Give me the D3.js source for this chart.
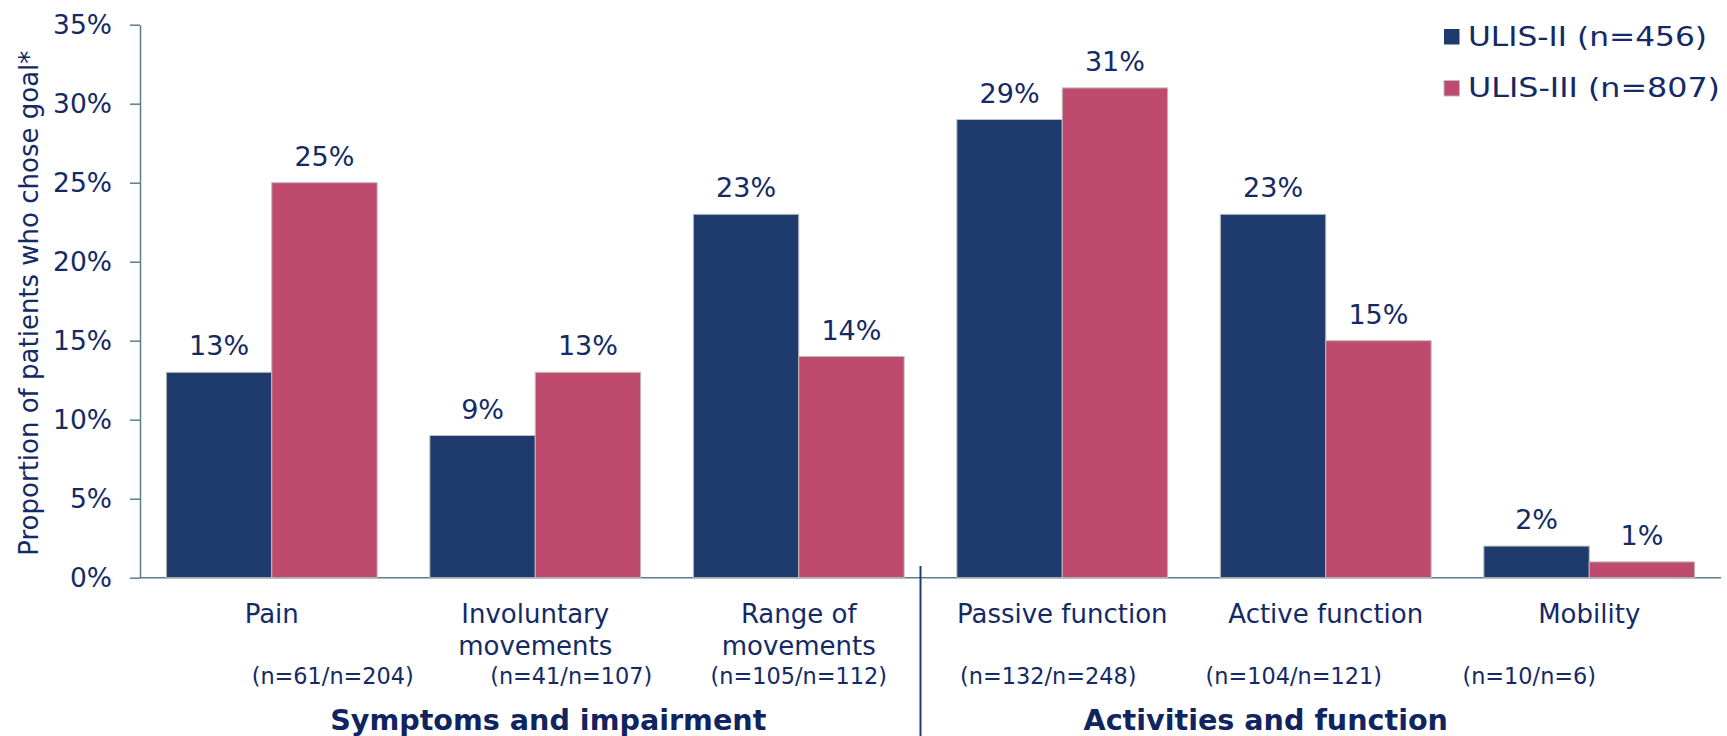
<!DOCTYPE html>
<html>
<head>
<meta charset="utf-8">
<script src="https://cdn.jsdelivr.net/npm/d3@7/dist/d3.min.js"></script>
<style>
  html, body { margin: 0; padding: 0; background: #fff; }
  svg { display: block; font-family: "DejaVu Sans", Verdana, sans-serif; }
</style>
</head>
<body>
<svg id="chart" width="1727" height="736"></svg>
<script>
// Goal categories (line breaks mark wrapped labels)
const categories = ["Pain", "Involuntary\nmovements", "Range of\nmovements", "Passive function", "Active function", "Mobility"];
// Share of patients choosing each goal, in percent
const ulis2Values = [13, 9, 23, 29, 23, 2];
const ulis3Values = [25, 13, 14, 31, 15, 1];
// Patient counts per category (ULIS-II / ULIS-III)
const nLabels = ["(n=61/n=204)", "(n=41/n=107)", "(n=105/n=112)", "(n=132/n=248)", "(n=104/n=121)", "(n=10/n=6)"];
// Category groups and how many categories each spans
const groupNames = ["Symptoms and impairment", "Activities and function"];
const groupSizes = [3, 3];
// Series names
const seriesNames = ["ULIS-II (n=456)", "ULIS-III (n=807)"];
// Y-axis ticks
const yTicks = [0, 5, 10, 15, 20, 25, 30, 35];
const yTickLabels = ["0%", "5%", "10%", "15%", "20%", "25%", "30%", "35%"];

// ---- styling ----
const textColor = "#142a66";
const axisColor = "#5d7d8c";
const seriesColors = ["#1f3b6e", "#be4a6e"];
const barStroke = "#bdbdbd";

const svg = d3.select("#chart");
const plotLeft = 140, plotRight = 1721, plotTop = 24.7, plotBottom = 577.7;

const x = d3.scaleBand()
  .domain(categories)
  .range([plotLeft, plotRight])
  .paddingInner(0.2)
  .paddingOuter(0.1);

const xSeries = d3.scaleBand()
  .domain([0, 1])
  .range([0, x.bandwidth()]);

const y = d3.scaleLinear().domain([0, 35]).range([plotBottom, plotTop]);

// Y axis
const yAxis = d3.axisLeft(y)
  .tickValues(yTicks)
  .tickFormat((d, i) => yTickLabels[i])
  .tickSize(10)
  .tickSizeOuter(0)
  .tickPadding(18);

const yG = svg.append("g").attr("transform", `translate(${plotLeft},0)`).call(yAxis);
yG.select(".domain").attr("stroke", axisColor).attr("stroke-width", 1.5);
yG.selectAll(".tick line").attr("stroke", axisColor).attr("stroke-width", 1.5);
yG.selectAll(".tick text")
  .attr("fill", textColor)
  .attr("font-size", 26.5)
  .attr("font-family", "DejaVu Sans, Verdana, sans-serif");

// Baseline along 0%
svg.append("line")
  .attr("x1", plotLeft).attr("x2", plotRight)
  .attr("y1", y(0)).attr("y2", y(0))
  .attr("stroke", axisColor).attr("stroke-width", 1.5);

// Y axis title
svg.append("text")
  .attr("transform", `translate(38,${(y(0) + y(35)) / 2 + 2}) rotate(-90)`)
  .attr("text-anchor", "middle")
  .attr("fill", textColor)
  .attr("font-size", 26)
  .text("Proportion of patients who chose goal*");

// Bars and value labels
const series = [ulis2Values, ulis3Values];
series.forEach((vals, s) => {
  const rows = categories.map((c, i) => ({ c, v: vals[i] }));
  svg.append("g").selectAll("rect")
    .data(rows)
    .join("rect")
    .attr("x", d => x(d.c) + xSeries(s))
    .attr("y", d => y(d.v))
    .attr("width", xSeries.bandwidth())
    .attr("height", d => y(0) - y(d.v))
    .attr("fill", seriesColors[s])
    .attr("stroke", barStroke)
    .attr("stroke-width", 1);

  svg.append("g").selectAll("text")
    .data(rows)
    .join("text")
    .attr("x", d => x(d.c) + xSeries(s) + xSeries.bandwidth() / 2)
    .attr("y", d => y(d.v) - 17)
    .attr("text-anchor", "middle")
    .attr("fill", textColor)
    .attr("font-size", 27)
    .text(d => d.v + "%");
});

// Category labels
const catG = svg.append("g");
categories.forEach(c => {
  const t = catG.append("text")
    .attr("x", x(c) + x.bandwidth() / 2)
    .attr("y", 623)
    .attr("text-anchor", "middle")
    .attr("fill", textColor)
    .attr("font-size", 26);
  c.split("\n").forEach((line, li) => {
    t.append("tspan")
      .attr("x", x(c) + x.bandwidth() / 2)
      .attr("dy", li === 0 ? 0 : 32)
      .text(line);
  });
});

// Patient count labels, nudged sideways to sit in a row
const nShift = [61, 36, 0, -14, -32, -60];
svg.append("g").selectAll("text")
  .data(categories)
  .join("text")
  .attr("x", (c, i) => x(c) + x.bandwidth() / 2 + nShift[i])
  .attr("y", 684)
  .attr("text-anchor", "middle")
  .attr("fill", textColor)
  .attr("font-size", 22.4)
  .text((c, i) => nLabels[i]);

// Group titles and divider
const groupShift = [13, -60];
let start = 0;
groupNames.forEach((g, gi) => {
  const first = categories[start];
  const last = categories[start + groupSizes[gi] - 1];
  const x0 = x(first) - x.step() * x.paddingInner() / 2;
  const x1 = x(last) + x.bandwidth() + x.step() * x.paddingInner() / 2;
  svg.append("text")
    .attr("x", (x0 + x1) / 2 + groupShift[gi])
    .attr("y", 730)
    .attr("text-anchor", "middle")
    .attr("fill", "#0f2460")
    .attr("font-size", 28.6)
    .attr("font-weight", "bold")
    .text(g);
  if (gi > 0) {
    svg.append("line")
      .attr("x1", x0 - 10).attr("x2", x0 - 10)
      .attr("y1", 566).attr("y2", 736)
      .attr("stroke", "#1f3b6e").attr("stroke-width", 2);
  }
  start += groupSizes[gi];
});

// Legend
const legend = svg.append("g").attr("transform", "translate(1444,29)");
seriesNames.forEach((name, i) => {
  const row = legend.append("g").attr("transform", `translate(0,${i * 51.5})`);
  row.append("rect")
    .attr("width", 15.5).attr("height", 15.5)
    .attr("fill", seriesColors[i])
    .attr("stroke", i === 1 ? barStroke : "none")
    .attr("stroke-width", 1);
  row.append("text")
    .attr("x", 24)
    .attr("y", 16.5)
    .attr("fill", textColor)
    .attr("font-size", 26)
    .attr("textLength", i === 0 ? 239 : 252)
    .attr("lengthAdjust", "spacingAndGlyphs")
    .text(name);
});
</script>
</body>
</html>
